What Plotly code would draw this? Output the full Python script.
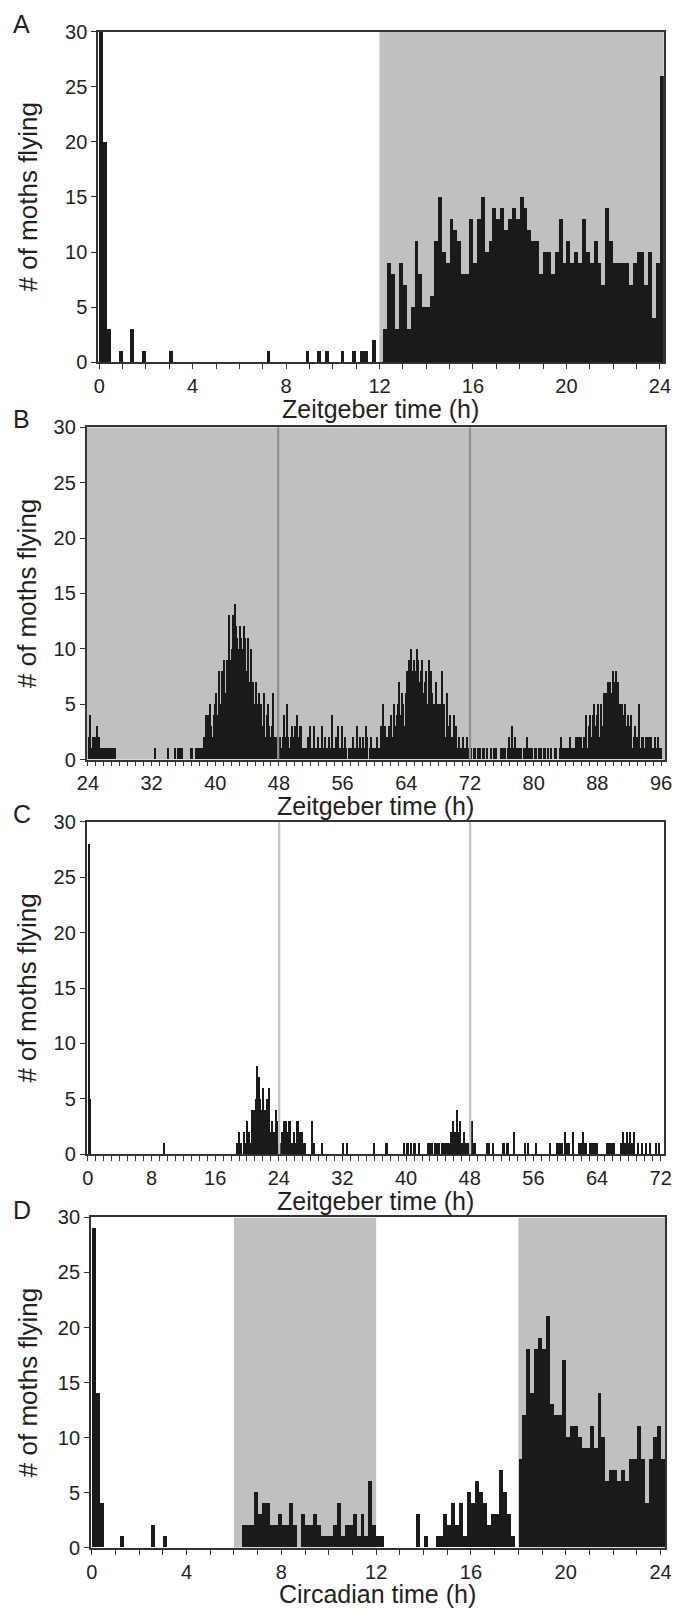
import numpy as np
import plotly.graph_objects as go

W, H = 685, 1620
BIN = 1 / 6  # 10-minute bins

# ---------------- Panel A (ZT 0-24, 10-min bins) ----------------
a_light = [30, 20, 3, 0, 0, 1, 0, 0, 3, 0, 0, 1,
           0, 0, 0, 0, 0, 0, 1, 0, 0, 0, 0, 0,
           0, 0, 0, 0, 0, 0, 0, 0, 0, 0, 0, 0,
           0, 0, 0, 0, 0, 0, 0, 1, 0, 0, 0, 0,
           0, 0, 0, 0, 0, 1, 0, 0, 1, 0, 1, 0,
           0, 0, 1, 0, 0, 1, 0, 1, 1, 0, 2, 0,
           0]
a_dark = [3, 9, 8, 3, 9, 7, 3, 5, 11, 8, 5, 5,
          6, 11, 15, 10, 9, 13, 12, 11, 8, 8, 13, 9,
          13, 15, 10, 11, 14, 13, 14, 12, 13, 14, 13, 15,
          14, 12, 11, 11, 8, 10, 10, 8, 10, 13, 9, 11,
          9, 10, 9, 13, 10, 9, 11, 9, 7, 14, 11, 9,
          9, 9, 9, 7, 9, 10, 10, 7, 10, 4, 9, 26]
a_counts = a_light + a_dark

# ---------------- Panel B (ZT 24-96, constant darkness) ----------------
b_rows = [
    [2, 4, 1, 2, 1, 2], [3, 1, 2, 1, 1, 1], [1, 1, 1, 1, 1, 1], [1, 1, 1, 0, 0, 0],
    [0, 0, 0, 0, 0, 0], [0, 0, 0, 0, 0, 0], [0, 0, 0, 0, 0, 0], [0, 0, 0, 0, 0, 0],
    [0, 0, 1, 0, 0, 0], [0, 0, 0, 0, 0, 0], [1, 0, 0, 0, 0, 1], [0, 1, 0, 1, 1, 0],
    [0, 0, 0, 0, 0, 1], [1, 0, 0, 1, 1, 1], [1, 1, 1, 2, 4, 3], [4, 5, 3, 2, 4, 5],
    [6, 4, 8, 5, 8, 6], [9, 6, 9, 8, 13, 9], [10, 13, 14, 12, 11, 10], [12, 11, 10, 12, 11, 8],
    [11, 7, 10, 7, 7, 5], [7, 5, 6, 4, 5, 3], [6, 2, 4, 5, 3, 2], [3, 6, 2, 1, 2, 2],
    [2, 1, 2, 4, 2, 5], [2, 1, 2, 3, 2, 3], [2, 4, 2, 3, 3, 1], [1, 1, 1, 2, 1, 3],
    [1, 1, 3, 1, 1, 2], [1, 1, 3, 1, 2, 1], [1, 2, 1, 4, 1, 1], [2, 1, 3, 1, 1, 3],
    [1, 2, 1, 0, 1, 1], [1, 2, 1, 1, 3, 1], [2, 0, 1, 2, 1, 3], [2, 0, 1, 2, 1, 0],
    [1, 2, 1, 1, 3, 2], [5, 3, 2, 2, 3, 1], [4, 2, 5, 3, 4, 5], [7, 4, 6, 5, 3, 6],
    [8, 9, 7, 10, 8, 9], [8, 10, 9, 7, 8, 9], [6, 7, 8, 5, 9, 4], [8, 6, 5, 4, 7, 5],
    [3, 5, 8, 3, 5, 2], [6, 3, 4, 1, 2, 4], [2, 3, 1, 2, 1, 1], [2, 1, 1, 2, 1, 1],
    [1, 0, 1, 1, 0, 1], [0, 1, 0, 1, 1, 0], [1, 0, 0, 1, 0, 1], [1, 1, 0, 0, 0, 1],
    [1, 1, 1, 0, 1, 2], [1, 3, 1, 2, 0, 1], [1, 1, 1, 0, 1, 1], [2, 1, 1, 1, 1, 0],
    [1, 1, 0, 1, 0, 1], [0, 1, 1, 0, 1, 0], [1, 0, 0, 1, 1, 0], [0, 1, 2, 1, 0, 1],
    [1, 1, 0, 2, 1, 1], [1, 2, 1, 2, 2, 2], [1, 2, 2, 4, 1, 3], [4, 2, 4, 5, 3, 4],
    [5, 2, 5, 3, 6, 4], [6, 7, 5, 7, 6, 8], [7, 8, 6, 7, 5, 3], [5, 4, 5, 3, 4, 2],
    [3, 4, 1, 2, 3, 2], [2, 5, 1, 2, 2, 1], [2, 2, 2, 1, 2, 1], [1, 2, 1, 2, 1, 1],
]
b_counts = [v for row in b_rows for v in row]

# ---------------- Panel C (ZT 0-72, constant light) ----------------
c_rows = [
    [28, 5, 0, 0, 0, 0], [0, 0, 0, 0, 0, 0], [0, 0, 0, 0, 0, 0], [0, 0, 0, 0, 0, 0],
    [0, 0, 0, 0, 0, 0], [0, 0, 0, 0, 0, 0], [0, 0, 0, 0, 0, 0], [0, 0, 0, 0, 0, 0],
    [0, 0, 0, 0, 0, 0], [0, 0, 0, 1, 0, 0], [0, 0, 0, 0, 0, 0], [0, 0, 0, 0, 0, 0],
    [0, 0, 0, 0, 0, 0], [0, 0, 0, 0, 0, 0], [0, 0, 0, 0, 0, 0], [0, 0, 0, 0, 0, 0],
    [0, 0, 0, 0, 0, 0], [0, 0, 0, 0, 0, 0], [0, 0, 0, 0, 1, 2], [0, 1, 0, 2, 1, 3],
    [2, 2, 1, 4, 4, 4], [5, 8, 7, 5, 4, 6], [3, 4, 5, 3, 6, 2], [3, 2, 2, 4, 3, 1],
    [1, 0, 2, 3, 1, 3], [2, 3, 3, 1, 1, 2], [1, 3, 3, 2, 1, 2], [1, 1, 0, 0, 0, 0],
    [3, 1, 1, 0, 0, 0], [0, 0, 1, 0, 0, 0], [0, 0, 0, 0, 0, 0], [0, 0, 0, 0, 0, 0],
    [1, 0, 0, 1, 0, 0], [0, 0, 0, 0, 0, 0], [0, 0, 0, 0, 0, 0], [0, 0, 0, 0, 0, 1],
    [0, 0, 0, 0, 0, 0], [0, 0, 1, 1, 0, 0], [0, 0, 0, 0, 0, 0], [0, 0, 0, 0, 1, 0],
    [1, 1, 0, 1, 0, 1], [1, 0, 0, 1, 0, 0], [0, 0, 0, 0, 1, 1], [0, 1, 0, 1, 1, 1],
    [1, 0, 1, 1, 1, 1], [1, 1, 1, 2, 1, 3], [2, 2, 4, 2, 3, 1], [1, 2, 1, 1, 1, 0],
    [1, 3, 1, 1, 0, 0], [0, 0, 0, 0, 0, 0], [1, 0, 1, 0, 0, 1], [0, 0, 0, 0, 0, 0],
    [1, 1, 0, 1, 1, 0], [0, 0, 0, 2, 0, 0], [0, 0, 0, 0, 0, 1], [0, 1, 0, 0, 0, 0],
    [0, 1, 0, 0, 0, 0], [0, 0, 0, 0, 0, 0], [1, 0, 0, 0, 0, 1], [1, 1, 1, 1, 0, 2],
    [1, 1, 1, 0, 0, 2], [0, 0, 0, 0, 1, 1], [1, 2, 1, 1, 0, 0], [1, 1, 1, 0, 1, 1],
    [0, 0, 0, 0, 0, 0], [0, 1, 1, 1, 1, 1], [1, 0, 0, 0, 0, 1], [1, 2, 1, 1, 2, 1],
    [2, 1, 1, 2, 0, 0], [1, 0, 0, 1, 0, 0], [1, 0, 0, 1, 0, 0], [0, 0, 1, 0, 1, 0],
]
c_counts = [v for row in c_rows for v in row]

# ---------------- Panel D (CT 0-24, 10-min bins) ----------------
d_counts = [29, 14, 4, 0, 0, 0, 0, 1, 0, 0, 0, 0,
            0, 0, 0, 2, 0, 0, 1, 0, 0, 0, 0, 0,
            0, 0, 0, 0, 0, 0, 0, 0, 0, 0, 0, 0,
            0, 0, 2, 2, 2, 5, 3, 4, 4, 2, 2, 3,
            2, 2, 4, 2, 0, 3, 2, 2, 3, 2, 1, 1,
            1, 2, 4, 1, 2, 2, 3, 1, 3, 1, 6, 2,
            1, 1, 0, 0, 0, 0, 0, 0, 0, 0, 3, 0,
            1, 0, 0, 1, 1, 3, 2, 4, 2, 4, 1, 5,
            4, 6, 5, 4, 2, 3, 3, 7, 5, 3, 1, 0,
            8, 12, 18, 14, 18, 19, 18, 21, 13, 12, 12, 17,
            10, 11, 11, 10, 9, 9, 11, 9, 14, 10, 6, 7,
            7, 6, 7, 6, 8, 8, 11, 8, 4, 8, 10, 11,
            8]

# Panel configuration
panels = [
    dict(letter="A", counts=a_counts, t0=0, xr=[-0.05, 24.17], dtick=4,
         title="Zeitgeber time (h)", dark=[(12, 24.17)], lines=[], line_col=None,
         px=(90.4, 671.5), py=(21, 356)),
    dict(letter="B", counts=b_counts, t0=24, xr=[23.83, 96.5], dtick=8,
         title="Zeitgeber time (h)", dark=[(23.83, 96.5)], lines=[47.9, 72.0], line_col="#8f8f8f",
         px=(78.6, 672.7), py=(422, 759)),
    dict(letter="C", counts=c_counts, t0=0, xr=[-0.17, 72.4], dtick=8,
         title="Zeitgeber time (h)", dark=[], lines=[24.05, 48.05], line_col="#c4c4c4",
         px=(78.6, 671.5), py=(822, 1159)),
    dict(letter="D", counts=d_counts, t0=0, xr=[-0.04, 24.19], dtick=4,
         title="Circadian time (h)", dark=[(6, 12), (18, 24.19)], lines=[], line_col=None,
         px=(83, 672.7), py=(1223, 1558)),
]

FONT = "Liberation Sans, Arial, sans-serif"
INK = "#231f20"
AX = "#333333"
GRAY = "#c0c0c0"
BAR = "#1a1a1a"

fig = go.Figure()
shapes = []
annotations = []
layout_axes = {}

for i, p in enumerate(panels, start=1):
    xa = "x" if i == 1 else f"x{i}"
    ya = "y" if i == 1 else f"y{i}"
    xkey = "xaxis" if i == 1 else f"xaxis{i}"
    ykey = "yaxis" if i == 1 else f"yaxis{i}"
    n = len(p["counts"])
    centers = p["t0"] + (np.arange(n) + 0.5) * BIN
    fig.add_trace(go.Bar(x=centers, y=p["counts"], width=BIN, xaxis=xa, yaxis=ya,
                         marker=dict(color=BAR, line=dict(width=0)), showlegend=False))
    x0p, x1p = p["px"]
    y0p, y1p = p["py"]
    layout_axes[xkey] = dict(
        domain=[x0p / W, x1p / W], anchor=ya, range=p["xr"],
        tick0=0, dtick=p["dtick"], ticks="outside", ticklen=5, tickwidth=1.3, tickcolor=AX,
        minor=dict(dtick=1, tick0=0, ticks="outside", ticklen=5, tickwidth=1.3, tickcolor=AX),
        showline=True, linecolor=AX, linewidth=1.5, mirror=True,
        showgrid=False, zeroline=False,
        tickfont=dict(family=FONT, size=20, color=INK), fixedrange=True,
    )
    layout_axes[ykey] = dict(
        domain=[1 - y1p / H, 1 - y0p / H], anchor=xa, range=[0, 30],
        tick0=0, dtick=5, ticks="outside", ticklen=5, tickwidth=1.3, tickcolor=AX,
        showline=True, linecolor=AX, linewidth=1.5, mirror=True,
        showgrid=False, zeroline=False,
        tickfont=dict(family=FONT, size=20, color=INK), fixedrange=True,
    )
    for (d0, d1) in p["dark"]:
        shapes.append(dict(type="rect", xref=xa, yref=ya, x0=d0, x1=d1, y0=0, y1=30,
                           fillcolor=GRAY, line=dict(width=0), layer="below"))
    for lx in p["lines"]:
        shapes.append(dict(type="line", xref=xa, yref=ya, x0=lx, x1=lx, y0=0, y1=30,
                           line=dict(color=p["line_col"], width=2.2), layer="above"))
    # panel letter
    annotations.append(dict(text=p["letter"], xref="paper", yref="paper",
                            x=1 / W, y=1 - (y0p - 8) / H, xanchor="left", yanchor="middle",
                            showarrow=False, font=dict(family=FONT, size=25, color=INK)))
    # x title
    annotations.append(dict(text=p["title"], xref="paper", yref="paper",
                            x=(x0p + x1p) / 2 / W, y=1 - (y1p + 47) / H,
                            xanchor="center", yanchor="middle", showarrow=False, borderpad=0,
                            font=dict(family=FONT, size=25, color=INK)))
    # y title
    annotations.append(dict(text="# of moths flying", xref="paper", yref="paper",
                            x=18 / W, y=1 - (y0p + y1p) / 2 / H, textangle=-90,
                            xanchor="center", yanchor="middle", showarrow=False, borderpad=0,
                            font=dict(family=FONT, size=26, color=INK)))

fig.update_layout(
    width=W, height=H, margin=dict(l=0, r=0, t=0, b=0),
    paper_bgcolor="white", plot_bgcolor="white",
    bargap=0, shapes=shapes, annotations=annotations, **layout_axes,
)

fig.write_html("out.html", include_plotlyjs=True, config={"displayModeBar": False},
               post_script="document.body.style.margin='0';document.body.style.overflow='hidden';")
